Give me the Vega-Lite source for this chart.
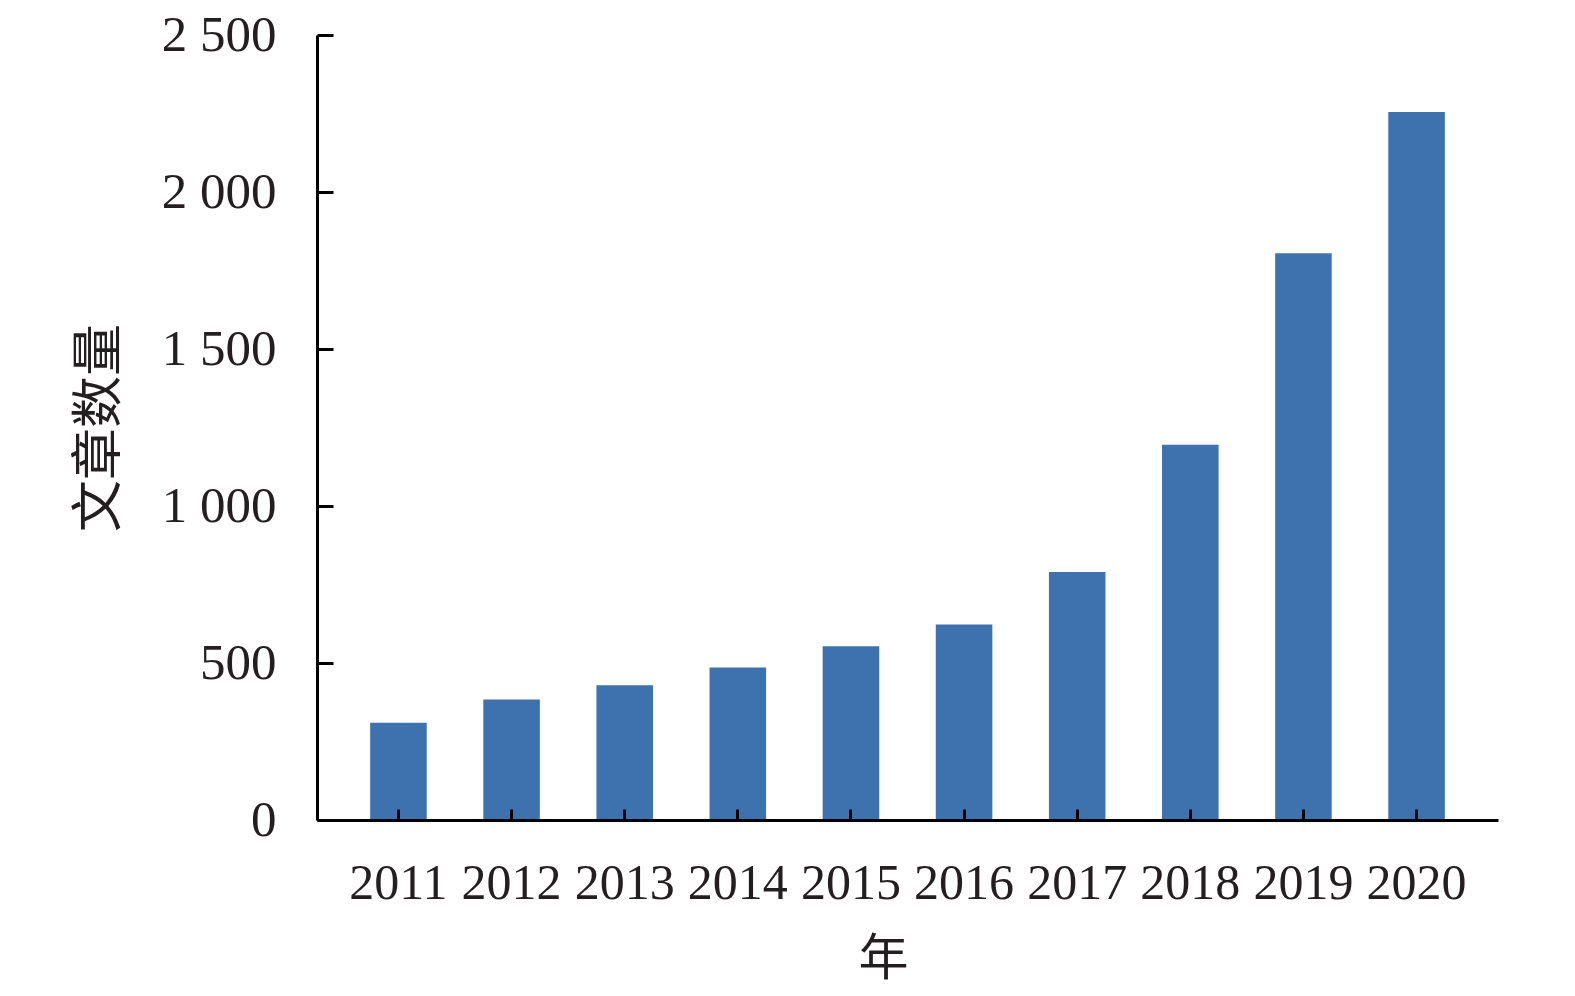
{
  "$schema": "https://vega.github.io/schema/vega-lite/v6.json",
  "autosize": "none",
  "width": 1181,
  "height": 785,
  "padding": {"left": 317, "top": 35, "right": 77, "bottom": 176},
  "background": "white",
  "data": {
    "values": [
      {"year": "2011", "count": 310},
      {"year": "2012", "count": 384},
      {"year": "2013", "count": 429},
      {"year": "2014", "count": 486},
      {"year": "2015", "count": 553},
      {"year": "2016", "count": 623},
      {"year": "2017", "count": 790},
      {"year": "2018", "count": 1195},
      {"year": "2019", "count": 1805},
      {"year": "2020", "count": 2255}
    ]
  },
  "mark": {"type": "bar", "color": "#3e72ae"},
  "encoding": {
    "x": {
      "field": "year",
      "type": "ordinal",
      "title": "年",
      "scale": {"paddingInner": 0.5, "paddingOuter": 0.47},
      "axis": {
        "zindex": 1,
        "labelAngle": 0,
        "labelFont": "Liberation Serif",
        "labelFontSize": 50,
        "labelColor": "#231f20",
        "labelPadding": 49,
        "domainColor": "#000000",
        "domainWidth": 3,
        "tickColor": "#000000",
        "tickWidth": 3,
        "tickSize": -11,
        "titleFont": "Noto Sans CJK SC",
        "titleFontSize": 50,
        "titleFontWeight": "normal",
        "titleColor": "#231f20",
        "titlePadding": 26,
        "titleX": 566
      }
    },
    "y": {
      "field": "count",
      "type": "quantitative",
      "title": "文章数量",
      "scale": {"domain": [0, 2500], "nice": false},
      "axis": {
        "zindex": 1,
        "values": [0, 500, 1000, 1500, 2000, 2500],
        "labelExpr": "replace(format(datum.value, ','), ',', ' ')",
        "grid": false,
        "labelFont": "Liberation Serif",
        "labelFontSize": 51,
        "labelColor": "#231f20",
        "labelPadding": 57,
        "domainColor": "#000000",
        "domainWidth": 3,
        "tickColor": "#000000",
        "tickWidth": 3,
        "tickSize": -16,
        "titleFont": "Noto Sans CJK SC",
        "titleFontSize": 52,
        "titleFontWeight": "normal",
        "titleColor": "#231f20",
        "titlePadding": 35
      }
    }
  },
  "config": {"view": {"stroke": null}}
}
